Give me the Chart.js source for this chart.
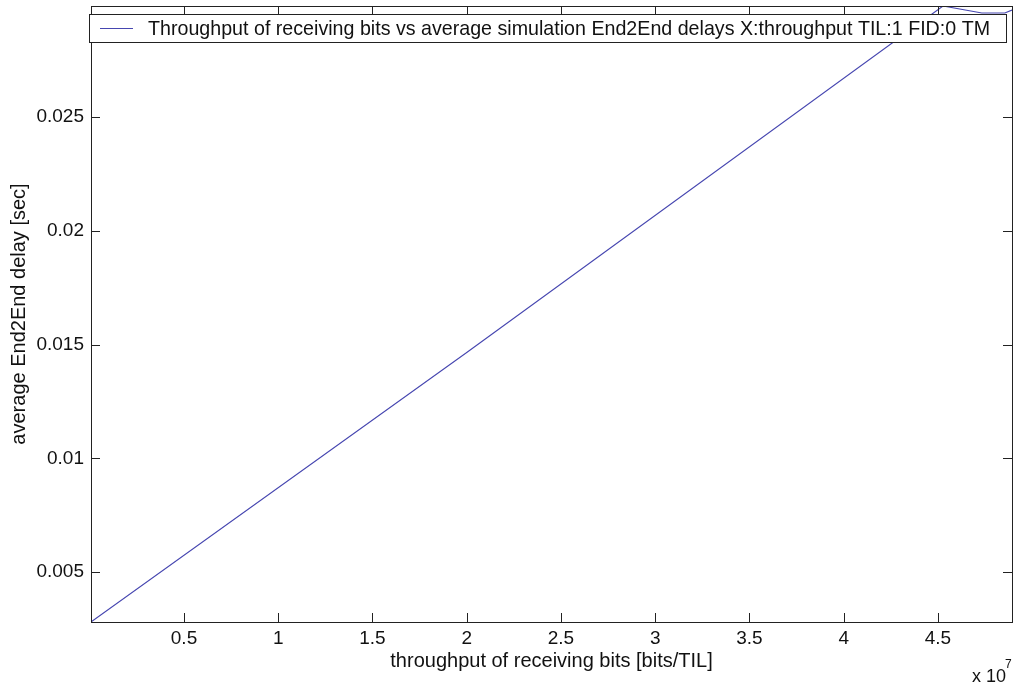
<!DOCTYPE html>
<html>
<head>
<meta charset="utf-8">
<script src="https://cdn.jsdelivr.net/npm/chart.js@4"></script>
<style>
  html, body { margin: 0; padding: 0; background: #fff; }
  #wrap { width: 1016px; height: 684px; }
</style>
</head>
<body>
<div id="wrap"><canvas id="myChart" width="1016" height="684"></canvas></div>
<script>
// throughput [bits/TIL] and average End2End delay [sec]
let throughput = [66000, 20000000, 45270000, 47330000, 48550000, 48930000]
let delay = [0.0028, 0.01465, 0.02989, 0.02958, 0.02958, 0.02971]
let xTicks = [5e6, 1e7, 1.5e7, 2e7, 2.5e7, 3e7, 3.5e7, 4e7, 4.5e7]
let yTicks = [0.005, 0.01, 0.015, 0.02, 0.025]
let seriesLabel = 'Throughput of receiving bits vs average simulation End2End delays X:throughput TIL:1 FID:0 TM'

const FONT = "'Liberation Sans', Arial, sans-serif"

let points = []
for (let i in throughput) {
    points.push({x: throughput[i], y: delay[i]})
}

// matlab style frame: box, inward ticks, legend and the x10^7 factor
const frame = {
    id: 'frame',
    afterDatasetsDraw(chart) {
        const ctx = chart.ctx
        const a = chart.chartArea
        const xs = chart.scales.x
        const ys = chart.scales.y
        ctx.save()
        ctx.strokeStyle = '#222'
        ctx.lineWidth = 1
        ctx.strokeRect(Math.round(a.left) + 0.5, Math.round(a.top) + 0.5,
            Math.round(a.right - a.left), Math.round(a.bottom - a.top))
        ctx.beginPath()
        for (let v of xTicks) {
            let px = Math.round(xs.getPixelForValue(v)) + 0.5
            ctx.moveTo(px, a.bottom); ctx.lineTo(px, a.bottom - 9)
            ctx.moveTo(px, a.top); ctx.lineTo(px, a.top + 9)
        }
        for (let v of yTicks) {
            let py = Math.round(ys.getPixelForValue(v)) + 0.5
            ctx.moveTo(a.left, py); ctx.lineTo(a.left + 9, py)
            ctx.moveTo(a.right, py); ctx.lineTo(a.right - 9, py)
        }
        ctx.stroke()

        // legend box, text squeezed to the box width
        ctx.fillStyle = '#fff'
        ctx.fillRect(89.5, 14.5, 917, 28)
        ctx.strokeRect(89.5, 14.5, 917, 28)
        ctx.strokeStyle = chart.data.datasets[0].borderColor
        ctx.beginPath()
        ctx.moveTo(100, 28.5); ctx.lineTo(133, 28.5)
        ctx.stroke()
        ctx.fillStyle = '#111'
        ctx.font = '21px ' + FONT
        ctx.textBaseline = 'middle'
        let label = chart.data.datasets[0].label
        let sx = 842 / ctx.measureText(label).width
        ctx.save()
        ctx.translate(148, 29)
        ctx.scale(sx, 1)
        ctx.fillText(label, 0, 0)
        ctx.restore()

        // exponent of the x axis
        ctx.font = '18px ' + FONT
        ctx.textBaseline = 'alphabetic'
        ctx.fillText('x 10', 972, 682)
        ctx.font = '12px ' + FONT
        ctx.fillText('7', 1005, 668)
        ctx.restore()
    }
}

const ctx = document.getElementById('myChart').getContext('2d')
const myChart = new Chart(ctx, {
    type: 'scatter',
    data: {
        datasets: [{
            label: seriesLabel,
            data: points,
            showLine: true,
            borderColor: '#4646b0',
            borderWidth: 1.1,
            pointRadius: 0,
            tension: 0
        }]
    },
    options: {
        responsive: false,
        animation: false,
        layout: {padding: {top: 6, right: 4, left: 0, bottom: 0}},
        plugins: {legend: {display: false}, tooltip: {enabled: false}},
        scales: {
            x: {
                type: 'linear',
                min: 66000,
                max: 48930000,
                afterBuildTicks: function(s) { s.ticks = xTicks.map(v => ({value: v})) },
                afterFit: function(s) {
                    s.height = 62
                    s.paddingLeft = 0
                    s.paddingRight = 0
                },
                grid: {display: false, drawTicks: false},
                border: {display: false},
                ticks: {
                    color: '#111',
                    padding: 5,
                    maxRotation: 0,
                    autoSkip: false,
                    font: {family: FONT, size: 19},
                    callback: v => String(v / 1e7)
                },
                title: {
                    display: true,
                    text: 'throughput of receiving bits [bits/TIL]',
                    color: '#111',
                    font: {family: FONT, size: 20},
                    padding: {top: 0, bottom: 11}
                }
            },
            y: {
                type: 'linear',
                min: 0.0028,
                max: 0.02989,
                afterBuildTicks: function(s) { s.ticks = yTicks.map(v => ({value: v})) },
                afterFit: function(s) {
                    s.width = 91
                    s.paddingTop = 0
                    s.paddingBottom = 0
                },
                grid: {display: false, drawTicks: false},
                border: {display: false},
                ticks: {
                    color: '#111',
                    padding: 7,
                    autoSkip: false,
                    font: {family: FONT, size: 19},
                    callback: v => String(v)
                },
                title: {
                    display: true,
                    text: 'average End2End delay [sec]',
                    color: '#111',
                    font: {family: FONT, size: 20},
                    padding: {top: 7, bottom: 0}
                }
            }
        }
    },
    plugins: [frame]
})
</script>
</body>
</html>
